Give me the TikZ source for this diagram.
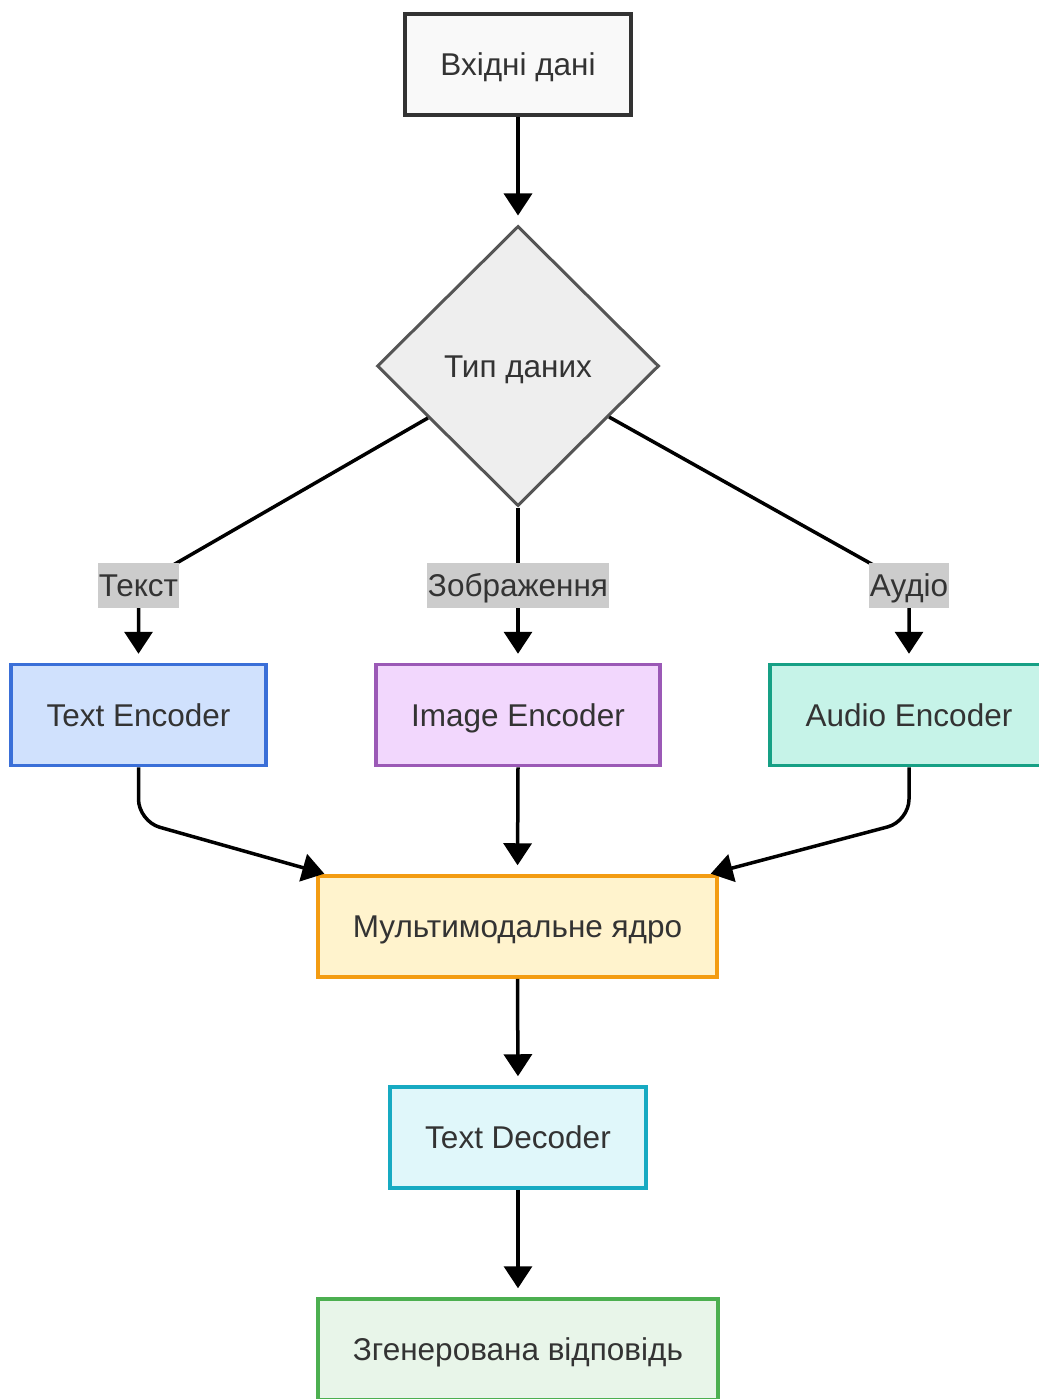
\documentclass[tikz,border=0pt]{standalone}
\usepackage{fontspec}
\setmainfont{Liberation Sans}
\usetikzlibrary{shapes.geometric,arrows.meta,calc}
\definecolor{txt}{HTML}{333333}
\definecolor{stfill}{HTML}{F9F9F9}\definecolor{stline}{HTML}{333333}
\definecolor{dfill}{HTML}{EEEEEE}\definecolor{dline}{HTML}{555555}
\definecolor{lblfill}{HTML}{CCCCCC}
\definecolor{tefill}{HTML}{D0E1FD}\definecolor{teline}{HTML}{3A6FD8}
\definecolor{iefill}{HTML}{F2D7FD}\definecolor{ieline}{HTML}{9B59B6}
\definecolor{aefill}{HTML}{C6F3E8}\definecolor{aeline}{HTML}{16A085}
\definecolor{mmfill}{HTML}{FFF3CD}\definecolor{mmline}{HTML}{F39C12}
\definecolor{tdfill}{HTML}{E0F7FA}\definecolor{tdline}{HTML}{17AAC2}
\definecolor{outfill}{HTML}{E8F5E9}\definecolor{outline}{HTML}{4CAF50}
\begin{document}
\begin{tikzpicture}[x=1pt,y=-1pt,
  every node/.style={text=txt, font=\fontsize{31.5}{36}\selectfont, text height=22.5pt, text depth=0pt},
  box/.style={draw, rectangle, line width=3.5pt, minimum height=101pt, inner sep=0pt},
  dec/.style={draw=dline, fill=dfill, diamond, line width=3pt, minimum width=282pt, minimum height=280pt, inner sep=0pt},
  lbl/.style={fill=lblfill, rectangle, minimum height=45pt, inner xsep=1pt, inner ysep=0pt},
  arr/.style={line width=3.5pt, -{Triangle[length=22pt,width=28pt]}},
  plain/.style={line width=3.5pt}
]
\fill[white] (0,0) rectangle (1038,1399);
\useasboundingbox (0,0) rectangle (1038,1399);

\node[box, draw=stline, fill=stfill, minimum width=226pt] (start) at (518,64.5) {Вхідні дані};
\node[dec] (dia) at (518,366) {Тип даних};

\node[box, draw=teline, fill=tefill, minimum width=255pt] (te) at (138.5,715) {Text Encoder};
\node[box, draw=ieline, fill=iefill, minimum width=284pt] (ie) at (518,715) {Image Encoder};
\node[box, draw=aeline, fill=aefill, minimum width=278pt] (ae) at (909,715) {Audio Encoder};
\node[box, draw=mmline, fill=mmfill, minimum width=399pt] (mm) at (517.5,926.5) {Мультимодальне ядро};
\node[box, draw=tdline, fill=tdfill, minimum width=256pt] (td) at (518,1137.5) {Text Decoder};
\node[box, draw=outline, fill=outfill, minimum width=400pt] (out) at (518,1349.5) {Згенерована відповідь};

\coordinate (lt) at (138.5,585);
\coordinate (li) at (518,585);
\coordinate (la) at (909,585);

\draw[arr, shorten >=9pt] (start.south) -- (dia.north);
\draw[arr, shorten >=9pt] (dia) -- (lt) -- (te.north);
\draw[arr, shorten >=9pt] (dia.south) -- (li) -- (ie.north);
\draw[arr, shorten >=9pt] (dia) -- (la) -- (ae.north);

\node[lbl] (ltl) at (lt) {Текст};
\node[lbl] (lil) at (li) {Зображення};
\node[lbl] (lal) at (la) {Аудіо};

\draw[arr, rounded corners=22pt, shorten >=2pt] (te.south) -- ++(0,54) -- ($(mm.north west)+(10,0)$);
\draw[arr, shorten >=9pt] (ie.south) -- (mm.north);
\draw[arr, rounded corners=22pt, shorten >=2pt] (ae.south) -- ++(0,54) -- ($(mm.north east)+(-10,0)$);
\draw[arr, shorten >=9pt] (mm.south) -- (td.north);
\draw[arr, shorten >=9pt] (td.south) -- (out.north);
\end{tikzpicture}
\end{document}
